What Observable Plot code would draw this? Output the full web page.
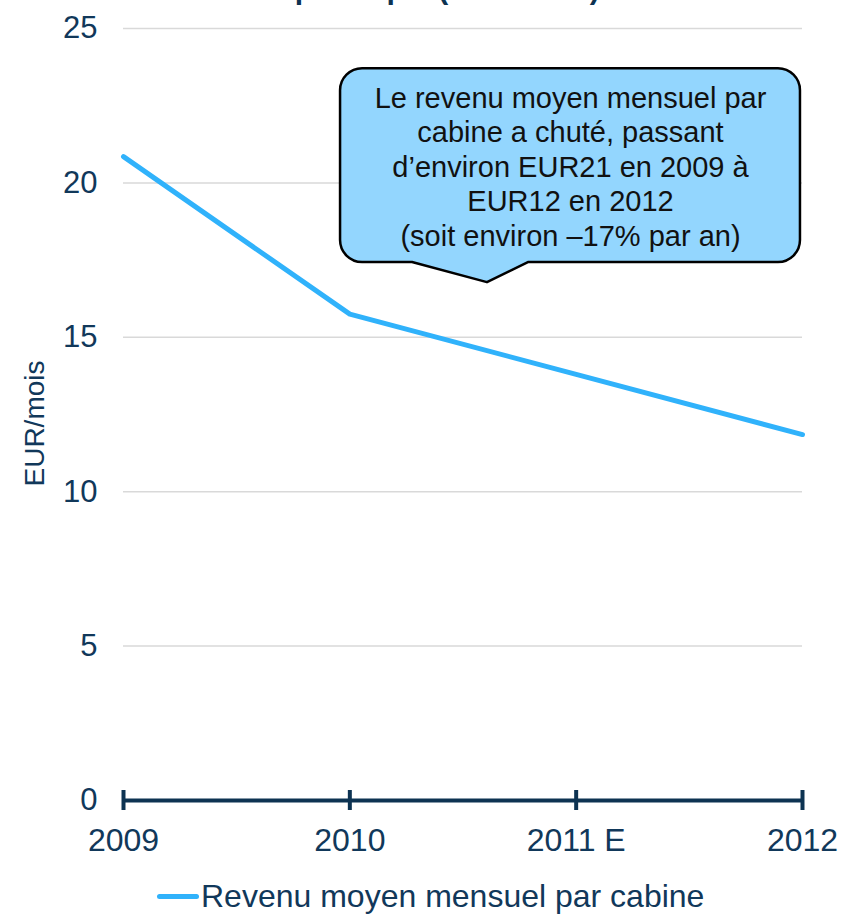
<!DOCTYPE html>
<html><head><meta charset="utf-8">
<script src="https://cdn.jsdelivr.net/npm/d3@7"></script>
<script src="https://cdn.jsdelivr.net/npm/@observablehq/plot@0.6"></script>
<style>
body{margin:0;background:#fff;font-family:"Liberation Sans",Arial,sans-serif;}
#wrap{position:relative;width:843px;height:917px;overflow:hidden;}
#chart{position:absolute;left:0;top:0;}
#title{position:absolute;left:0;width:843px;top:-26px;text-align:center;font-weight:bold;font-size:30px;line-height:30px;color:#0d3352;white-space:nowrap;}
#legend{position:absolute;left:157px;top:876px;height:40px;display:flex;align-items:center;font-size:32px;color:#11385a;white-space:nowrap;}
#legend .sw{width:42px;height:5px;background:#30b2fb;border-radius:3px;margin-right:2px;}
</style></head>
<body><div id="wrap"><div id="chart"></div><div id="title">téléphonique (EUR/mois)</div><div id="legend"><span class="sw"></span><span id="legtext"></span></div></div>
<script>
const years = ["2009", "2010", "2011 E", "2012"];
const revenue = [20.85, 15.75, 13.8, 11.85];
const yTicks = [0, 5, 10, 15, 20, 25];
const gridTicks = [5, 10, 15, 20, 25];
const seriesName = "Revenu moyen mensuel par cabine";
const yLabel = "EUR/mois";
const calloutLines = [
  "Le revenu moyen mensuel par",
  "cabine a chuté, passant",
  "d\u2019environ EUR21 en 2009 à",
  "EUR12 en 2012",
  "(soit environ \u201317% par an)"
];
// callout placement in data units (x = year index, y = EUR/mois)
const calloutBox = {x1: 0.959, x2: 2.991, y1: 17.42, y2: 23.70};
const calloutPointer = {xa: 1.277, xb: 1.789, tipX: 1.608, tipY: 16.77};

const navy = "#11385a";
const lineColor = "#30b2fb";
const data = years.map((yr, i) => ({i, year: yr, value: revenue[i]}));

document.getElementById("legtext").textContent = seriesName;

function callout(index, scales, values, dimensions, context) {
  const x = scales.x, y = scales.y, r = 22;
  const X0 = x(calloutBox.x1), X1 = x(calloutBox.x2);
  const Y0 = y(calloutBox.y2), Y1 = y(calloutBox.y1);
  const Xa = x(calloutPointer.xa), Xb = x(calloutPointer.xb);
  const Tx = x(calloutPointer.tipX), Ty = y(calloutPointer.tipY);
  const p = d3.path();
  p.moveTo(X0 + r, Y0);
  p.lineTo(X1 - r, Y0);
  p.arcTo(X1, Y0, X1, Y0 + r, r);
  p.lineTo(X1, Y1 - r);
  p.arcTo(X1, Y1, X1 - r, Y1, r);
  p.lineTo(Xb, Y1);
  p.lineTo(Tx, Ty);
  p.lineTo(Xa, Y1);
  p.lineTo(X0 + r, Y1);
  p.arcTo(X0, Y1, X0, Y1 - r, r);
  p.lineTo(X0, Y0 + r);
  p.arcTo(X0, Y0, X0 + r, Y0, r);
  p.closePath();
  const g = d3.create("svg:g");
  g.append("path").attr("d", p.toString())
    .attr("fill", "#93d6fe").attr("stroke", "#000").attr("stroke-width", 2.5)
    .attr("stroke-linejoin", "round");
  return g.node();
}

const chart = Plot.plot({
  width: 843,
  height: 860,
  marginLeft: 123,
  marginRight: 41,
  marginTop: 28,
  marginBottom: 60,
  style: {fontFamily: "'Liberation Sans', Arial, sans-serif", color: navy, background: "transparent"},
  x: {type: "linear", domain: [0, years.length - 1]},
  y: {domain: [0, 25]},
  marks: [
    Plot.ruleY(gridTicks, {stroke: "#d9d9d9", strokeWidth: 1.5}),
    Plot.line(data, {x: "i", y: "value", stroke: lineColor, strokeWidth: 5, strokeLinejoin: "round"}),
    callout,
    Plot.text([calloutLines.join("\n")], {
      x: (calloutBox.x1 + calloutBox.x2) / 2,
      y: (calloutBox.y1 + calloutBox.y2) / 2,
      fontSize: 29, lineHeight: 1.19, fill: "#111"
    }),
    Plot.ruleY([0], {stroke: "#0d3352", strokeWidth: 4}),
    Plot.ruleX(data, {x: "i", y1: 0, y2: 0, insetTop: -10, insetBottom: -10, stroke: "#0d3352", strokeWidth: 4}),
    Plot.axisY(yTicks, {tickSize: 0, tickPadding: 26, fontSize: 31, label: null}),
    Plot.axisX(data.map(d => d.i), {tickSize: 0, tickPadding: 28, fontSize: 32, label: null, tickFormat: i => years[i]}),
    Plot.text([yLabel], {frameAnchor: "left", textAnchor: "middle", rotate: -90, dx: -88, dy: 9, fontSize: 28, fill: navy})
  ]
});
document.getElementById("chart").appendChild(chart);
</script>
</body></html>
